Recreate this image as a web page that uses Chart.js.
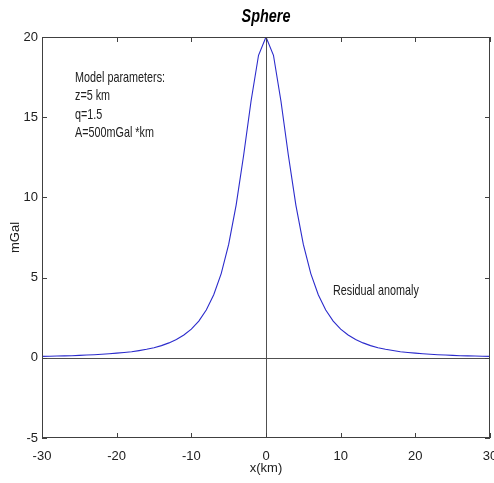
<!DOCTYPE html>
<html>
<head>
<meta charset="utf-8">
<script src="https://cdn.jsdelivr.net/npm/chart.js@4/dist/chart.umd.min.js"></script>
<style>
  html, body { margin: 0; padding: 0; background: #fff; }
  #wrap { width: 494px; height: 483px; }
</style>
</head>
<body>
<div id="wrap"><canvas id="grafica" width="494" height="483"></canvas></div>
<script>
// Datos (x en km, anomalía en mGal)
const posicionesX = [-30, -29, -28, -27, -26, -25, -24, -23, -22, -21, -20, -19, -18, -17, -16, -15, -14, -13, -12, -11, -10, -9, -8, -7, -6, -5, -4, -3, -2, -1,
  0, 1, 2, 3, 4, 5, 6, 7, 8, 9, 10, 11, 12, 13, 14, 15, 16, 17, 18, 19, 20, 21, 22, 23, 24, 25, 26, 27, 28, 29, 30];
const anomalia = [0.09, 0.10, 0.11, 0.12, 0.13, 0.15, 0.17, 0.19, 0.22, 0.25, 0.29, 0.33, 0.38, 0.45, 0.53, 0.63, 0.76, 0.93, 1.14, 1.42, 1.79, 2.29, 2.98, 3.93, 5.25, 7.07, 9.52, 12.61, 16.01, 18.86,
  20.0, 18.86, 16.01, 12.61, 9.52, 7.07, 5.25, 3.93, 2.98, 2.29, 1.79, 1.42, 1.14, 0.93, 0.76, 0.63, 0.53, 0.45, 0.38, 0.33, 0.29, 0.25, 0.22, 0.19, 0.17, 0.15, 0.13, 0.12, 0.11, 0.10, 0.09];
const ticksX = [-30, -20, -10, 0, 10, 20, 30];
const ticksY = [-5, 0, 5, 10, 15, 20];
const textoParametros = ['Model parameters:', 'z=5 km', 'q=1.5', 'A=500mGal *km'];

const fuente = '"Liberation Sans", Arial, sans-serif';

// Texto estrecho (la figura original está comprimida en horizontal)
function textoEstrecho(c, txt, x, y, escala) {
  c.save();
  c.translate(x, y);
  c.scale(escala, 1);
  c.fillText(txt, 0, 0);
  c.restore();
}

// Plugin para dibujar el estilo MATLAB: caja, marcas hacia dentro, ejes cero y textos
const estiloMatlab = {
  id: 'estiloMatlab',
  afterDatasetsDraw(chart) {
    const c = chart.ctx;
    const a = chart.chartArea;
    const sx = chart.scales.x;
    const sy = chart.scales.y;
    c.save();
    // ejes en cero
    c.strokeStyle = '#505050';
    c.lineWidth = 1;
    const y0 = Math.round(sy.getPixelForValue(0)) + 0.5;
    const x0 = Math.round(sx.getPixelForValue(0)) + 0.5;
    c.beginPath();
    c.moveTo(a.left, y0); c.lineTo(a.right, y0);
    c.moveTo(x0, a.top); c.lineTo(x0, a.bottom);
    c.stroke();
    // caja
    c.strokeStyle = '#404040';
    c.strokeRect(Math.round(a.left) + 0.5, Math.round(a.top) + 0.5,
      Math.round(a.right - a.left) - 1, Math.round(a.bottom - a.top) - 1);
    // marcas hacia dentro
    c.beginPath();
    ticksX.forEach(v => {
      const px = Math.round(sx.getPixelForValue(v)) + 0.5;
      c.moveTo(px, a.bottom); c.lineTo(px, a.bottom - 5);
      c.moveTo(px, a.top); c.lineTo(px, a.top + 5);
    });
    ticksY.forEach(v => {
      const py = Math.round(sy.getPixelForValue(v)) + 0.5;
      c.moveTo(a.left, py); c.lineTo(a.left + 5, py);
      c.moveTo(a.right, py); c.lineTo(a.right - 5, py);
    });
    c.stroke();
    // textos
    c.fillStyle = '#202020';
    c.textBaseline = 'middle';
    c.textAlign = 'left';
    c.font = '15px ' + fuente;
    textoParametros.forEach((t, i) => textoEstrecho(c, t, 75, 78 + i * 18.3, 0.72));
    textoEstrecho(c, 'Residual anomaly', 333, 291, 0.72);
    // título
    c.textAlign = 'center';
    c.font = 'italic bold 18px ' + fuente;
    c.fillStyle = '#000';
    textoEstrecho(c, 'Sphere', 266, 17, 0.8);
    c.restore();
  }
};

const ctx = document.getElementById('grafica').getContext('2d');
const grafica = new Chart(ctx, {
  type: 'line',
  data: {
    labels: posicionesX,
    datasets: [{
      label: 'Residual anomaly',
      data: posicionesX.map((x, i) => ({ x: x, y: anomalia[i] })),
      borderColor: '#2b2bcc',
      borderWidth: 1.1,
      pointRadius: 0,
      tension: 0,
      fill: false
    }]
  },
  options: {
    responsive: false,
    animation: false,
    layout: { padding: { top: 37, right: 4, left: 0, bottom: 0 } },
    plugins: {
      legend: { display: false },
      tooltip: { enabled: false }
    },
    scales: {
      x: {
        type: 'linear',
        min: -30, max: 30,
        grid: { display: false, drawTicks: false },
        border: { display: false },
        afterBuildTicks: s => { s.ticks = ticksX.map(v => ({ value: v })); },
        afterFit: s => { s.height = 45; s.paddingLeft = 0; s.paddingRight = 0; },
        ticks: { color: '#202020', font: { family: fuente, size: 13 }, padding: 11, maxRotation: 0 },
        title: { display: true, text: 'x(km)', color: '#202020', font: { family: fuente, size: 13 }, padding: { top: 0, bottom: 7 } }
      },
      y: {
        min: -5, max: 20,
        grid: { display: false, drawTicks: false },
        border: { display: false },
        afterBuildTicks: s => { s.ticks = ticksY.map(v => ({ value: v })); },
        afterFit: s => { s.width = 42; s.paddingTop = 0; s.paddingBottom = 0; },
        ticks: { color: '#202020', font: { family: fuente, size: 13 }, padding: 4 },
        title: { display: true, text: 'mGal', color: '#202020', font: { family: fuente, size: 13 }, padding: { top: 8, bottom: 0 } }
      }
    }
  },
  plugins: [estiloMatlab]
});
</script>
</body>
</html>
